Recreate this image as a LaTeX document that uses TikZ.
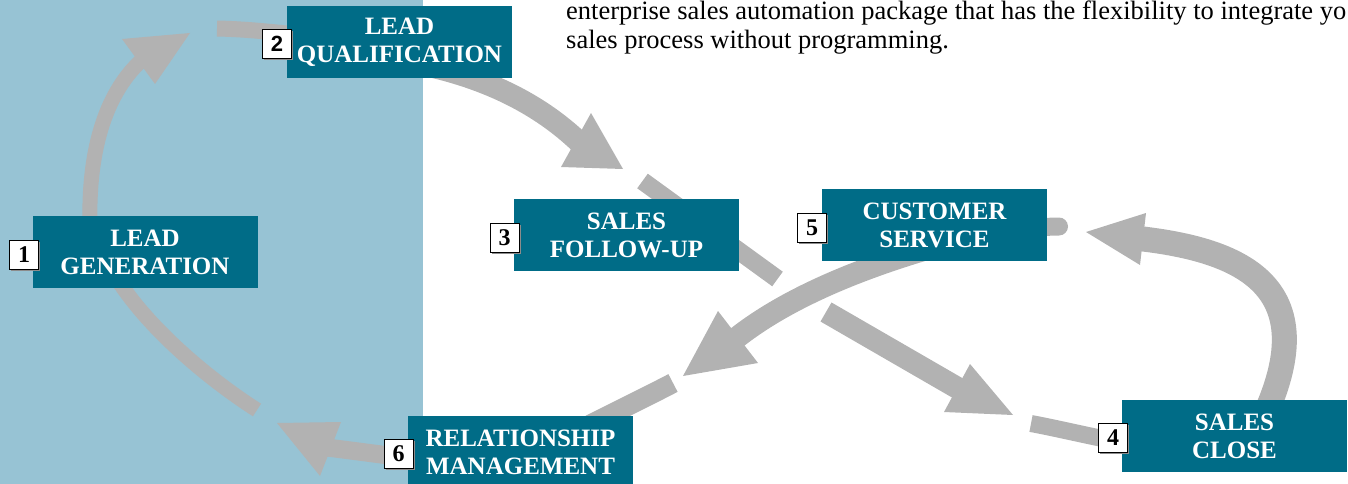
\documentclass[tikz,border=0pt]{standalone}
\usepackage{fontspec}
\setmainfont{Liberation Serif}
\newfontfamily\numsans{Liberation Sans}
\usetikzlibrary{shadows,calc}
\pgfdeclarelayer{bg}
\pgfsetlayers{bg,main}
\definecolor{bandgray}{RGB}{178,178,178}
\definecolor{panelblue}{RGB}{151,195,212}
\definecolor{stageteal}{RGB}{0,108,135}
\tikzset{
 band/.style={draw=bandgray, line width=#1},
 tiphead/.style={fill=bandgray},
 stage/.style={fill=stageteal, text=white, minimum width=225pt, minimum height=72pt, inner sep=0pt, align=center, font=\fontsize{25}{28}\selectfont\bfseries},
 numbox/.style={fill=white, draw=black, line width=1pt, minimum width=29pt, minimum height=29pt, inner sep=0pt, font=\fontsize{24}{24}\selectfont\bfseries, drop shadow={shadow xshift=1.5pt, shadow yshift=-1.5pt, fill=black!45, opacity=1}},
 bodytext/.style={anchor=base west, inner sep=0pt, font=\fontsize{26.5}{29}\selectfont}
}
\begin{document}
\begin{tikzpicture}[x=1pt,y=-1pt]
\useasboundingbox (0,0) rectangle (1348,484);
\clip (0,0) rectangle (1348,484);

% stage boxes
\node[stage] (n1) at (145,252) {LEAD\\GENERATION};
\node[stage] (n2) at (399.5,42) {LEAD\\QUALIFICATION};
\node[stage] (n3) at (626.5,235) {SALES\\FOLLOW-UP};
\node[stage] (n4) at (1234.5,436) {SALES\\CLOSE};
\node[stage] (n5) at (934.5,225) {CUSTOMER\\SERVICE};
\node[stage] (n6) at (520.5,452) {RELATIONSHIP\\MANAGEMENT};

% number boxes
\node[numbox] (k1) at (24,255) {1};
\node[numbox, font=\fontsize{22}{22}\selectfont\numsans\bfseries] (k2) at (277,44) {2};
\node[numbox] (k3) at (504.5,238) {3};
\node[numbox] (k4) at (1113,438) {4};
\node[numbox] (k5) at (812,228) {5};
\node[numbox] (k6) at (398.5,454) {6};

% top text
\node[bodytext] (t1) at (566,20) {enterprise sales automation package that has the flexibility to integrate yo};
\node[bodytext] (t2) at (566,49) {sales process without programming.};

% hidden band ends tied to the boxes
\coordinate (a0) at ($(n1.north)+(-55,9)$);
\coordinate (a2e) at ($(n2.west)+(13,-7)$);
\coordinate (b0) at ($(n2.south)+(30.5,-12)$);
\coordinate (b4e) at ($(n4.west)+(-12,4)$);
\coordinate (c0) at ($(n4.north)+(33.5,8)$);
\coordinate (c2e) at ($(n5.east)+(-7,2)$);
\coordinate (d0) at ($(n5.south)+(5.5,-16)$);
\coordinate (d2e) at ($(n6.north)+(69.5,9)$);
\coordinate (e0) at ($(n6.west)+(7,7)$);
\coordinate (e2e) at ($(n1.south)+(-27,-8)$);

\begin{pgfonlayer}{bg}
\fill[panelblue] (0,0) rectangle (423,484);
% 1 -> 2
\draw[band=15] (a0) .. controls (88,145) and (108,90) .. (143,59);
\fill[tiphead] (122,39) -- (190,33) -- (155,84) -- cycle;
\draw[band=16] (217,28.5) .. controls (240,29) and (265,31) .. (a2e);
% 2 -> 3 -> 4
\draw[band=22] (b0) .. controls (490,80) and (540,105) .. (579,142);
\fill[tiphead] (591,113) -- (623,169) -- (561,167) -- cycle;
\draw[band=18] (642.5,181) -- (777.5,279);
\draw[band=22] (826,312) -- (961,390);
\fill[tiphead] (970,364) -- (1013,415) -- (944,412) -- cycle;
\draw[band=17] (1031,423.5) .. controls (1055,428) and (1080,434) .. (b4e);
% 4 -> 5
\draw[band=25] (c0) .. controls (1320,285) and (1240,250) .. (1139,238.5);
\fill[tiphead] (1146,213) -- (1086,232) -- (1140,265) -- cycle;
\draw[band=18, line cap=round] (c2e) -- (1059,226.5);
% 5 -> 6
\draw[band=22] (d0) .. controls (870,265) and (790,295) .. (734.7,339.3);
\fill[tiphead] (718,311) -- (683,376) -- (758,363) -- cycle;
\draw[band=20] (673,383) .. controls (650,395) and (625,407) .. (d2e);
% 6 -> 1
\draw[band=18] (e0) .. controls (385,455) and (355,451) .. (327,447.5);
\fill[tiphead] (277,423) -- (341,422) -- (320,476) -- cycle;
\draw[band=15] (257,410) .. controls (210,380) and (150,330) .. (e2e);
\end{pgfonlayer}
\end{tikzpicture}
\end{document}
